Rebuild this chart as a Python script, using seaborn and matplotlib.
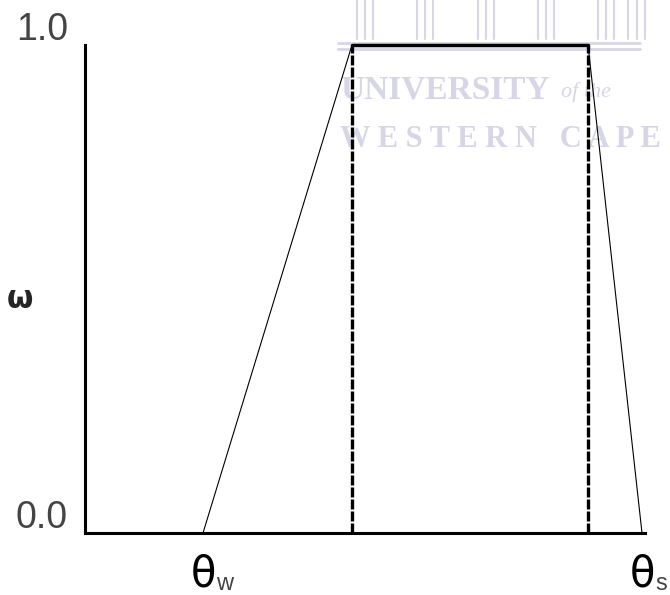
import numpy as np
import pandas as pd
import matplotlib
import seaborn as sns

matplotlib.use("Agg")
from matplotlib import pyplot as plt

# key points of the weighting function (x in pixel-like units from the y axis)
theta_w = 118
opt_low = 267
opt_high = 503
theta_s = 557
x_max = 560

rise_x = [theta_w, opt_low]
rise_y = [0.0, 1.0]
plateau_x = [opt_low, opt_high]
plateau_y = [1.0, 1.0]
fall_x = [opt_high, theta_s]
fall_y = [1.0, 0.0]

y_tick_values = [0.0, 1.0]
y_tick_labels = ["0.0", "1.0"]

sns.set_style("white")
plt.rcParams["font.family"] = ["Liberation Sans", "DejaVu Sans"]

fig = plt.figure(figsize=(6.7, 5.95), dpi=100)
ax = fig.add_axes([85 / 670, 62 / 595, 560 / 670, 488 / 595])
ax.set_facecolor("none")

# faint watermark behind the chart
wm = "#d6d6e6"
fig.text(0.507, 0.848, "UNIVERSITY", color=wm, fontsize=24, family="Liberation Serif",
         ha="left", va="center", fontweight="bold", zorder=-5)
fig.text(0.838, 0.845, "of the", color=wm, fontsize=16, family="Liberation Serif",
         ha="left", va="center", style="italic", zorder=-5)
fig.text(0.507, 0.765, "W E S T E R N   C A P E", color=wm, fontsize=22, family="Liberation Serif",
         ha="left", va="center", fontweight="bold", zorder=-5)
for yy in [0.918, 0.928]:
    fig.add_artist(plt.Line2D([0.505, 0.955], [yy, yy], color=wm, lw=2, zorder=-5))
for cx in [0.545, 0.635, 0.725, 0.815, 0.905, 0.95]:
    for dx in [-0.012, 0.0, 0.012]:
        fig.add_artist(plt.Line2D([cx + dx, cx + dx], [0.935, 1.0], color=wm, lw=1.5, zorder=-5))

sns.lineplot(x=rise_x, y=rise_y, ax=ax, color="black", lw=0.8, clip_on=False)
sns.lineplot(x=fall_x, y=fall_y, ax=ax, color="black", lw=0.8, clip_on=False)
sns.lineplot(x=plateau_x, y=plateau_y, ax=ax, color="black", lw=2.5, clip_on=False)
for xv in [opt_low, opt_high]:
    sns.lineplot(x=[xv, xv], y=[0.0, 1.0], ax=ax, color="black", lw=2.4,
                 estimator=None, errorbar=None, sort=False,
                 linestyle=(0, (3, 0.6)), clip_on=False)

ax.set_xlim(0, x_max)
ax.set_ylim(0, 1)
ax.set_xticks([])
ax.set_yticks([])
for side in ["top", "right"]:
    ax.spines[side].set_visible(False)
for side in ["left", "bottom"]:
    ax.spines[side].set_linewidth(2.2)
    ax.spines[side].set_color("black")

for val, lab in zip(y_tick_values, y_tick_labels):
    ax.text(-17, val + 0.03, lab, ha="right", va="center", fontsize=27, color="#444444",
            clip_on=False)

# theta labels: upright theta with a small subscript
for xv, sub in [(theta_w, "w"), (theta_s, "s")]:
    ax.text(xv, -0.085, "θ", ha="center", va="center", fontsize=30, color="black",
            family="DejaVu Sans", clip_on=False)
    ax.text(xv + 13, -0.105, sub, ha="left", va="center", fontsize=17, color="#444444",
            clip_on=False)

fig.text(20 / 670, 1 - 300 / 595, "ω", fontsize=22, fontweight="bold", ha="center", va="center",
         family="DejaVu Sans")

fig.savefig("out.png", dpi=100)
